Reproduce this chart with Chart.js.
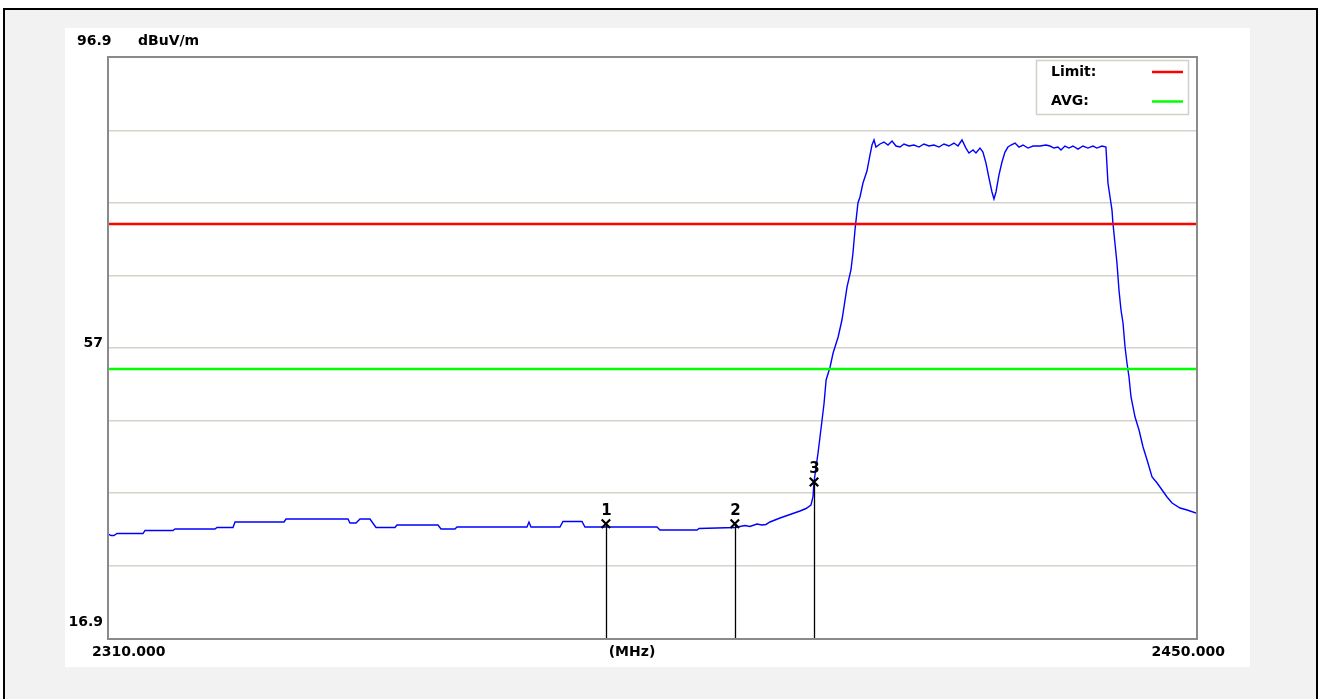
<!DOCTYPE html>
<html>
<head>
<meta charset="utf-8">
<script src="https://cdn.jsdelivr.net/npm/chart.js@4.4.1/dist/chart.umd.min.js"></script>
<style>
  html, body { margin:0; padding:0; background:#ffffff; width:1322px; height:699px; overflow:hidden; }
  #frame { position:absolute; left:3px; top:8px; width:1311px; height:700px; border:2px solid #000; border-bottom:none; background:#f2f2f2; }
  #panel { position:absolute; left:65px; top:28px; width:1185px; height:639px; background:#ffffff; }
  #c { position:absolute; left:0; top:0; }
</style>
</head>
<body>
<div id="frame"></div>
<div id="panel"></div>
<canvas id="c" width="1322" height="699"></canvas>
<script>
// ---- data ----
const freqMHz = [
  2310.00, 2310.26, 2310.64, 2311.03, 2314.38, 2314.64, 2318.24, 2318.50, 2323.65, 2323.91,
  2325.97, 2326.23, 2332.54, 2332.80, 2340.78, 2341.04, 2341.81, 2342.33, 2343.61, 2344.39,
  2346.83, 2347.09, 2352.37, 2352.76, 2354.56, 2354.82, 2363.83, 2364.09, 2364.35, 2368.08,
  2368.47, 2370.92, 2371.30, 2374.01, 2380.58, 2380.96, 2385.73, 2385.99, 2390.62, 2391.91,
  2392.55, 2393.45, 2394.10, 2394.61, 2395.13, 2396.42, 2397.71, 2399.00, 2399.77, 2400.41,
  2400.67, 2400.80, 2401.32, 2401.84, 2402.10, 2402.36, 2402.87, 2403.26, 2403.91, 2404.40,
  2404.66, 2405.05, 2405.56, 2405.82, 2406.08, 2406.46, 2406.72, 2407.11, 2407.62, 2408.01,
  2408.27, 2408.53, 2408.78, 2409.30, 2409.81, 2410.33, 2410.85, 2411.36, 2411.88, 2412.39,
  2413.03, 2413.68, 2414.32, 2414.96, 2415.61, 2416.25, 2416.90, 2417.54, 2418.18, 2418.83,
  2419.34, 2419.86, 2420.37, 2420.76, 2421.28, 2421.66, 2422.18, 2422.56, 2422.95, 2423.34,
  2423.72, 2423.98, 2424.24, 2424.62, 2425.01, 2425.40, 2425.78, 2426.17, 2426.69, 2427.20,
  2427.72, 2428.36, 2429.01, 2429.91, 2430.68, 2431.19, 2431.71, 2432.22, 2432.61, 2433.12,
  2433.64, 2434.15, 2434.80, 2435.44, 2436.08, 2436.73, 2437.24, 2437.89, 2438.40, 2438.66,
  2439.18, 2439.30, 2439.56, 2439.82, 2440.08, 2440.34, 2440.60, 2440.86, 2441.11, 2441.37,
  2441.63, 2442.15, 2442.66, 2443.18, 2443.70, 2444.34, 2444.99, 2445.63, 2446.27, 2446.92,
  2447.95, 2448.85, 2450.00
];
const levelDb = [
  31.20, 31.04, 31.04, 31.31, 31.31, 31.73, 31.73, 31.93, 31.93, 32.14,
  32.14, 32.90, 32.90, 33.31, 33.31, 32.76, 32.76, 33.31, 33.31, 32.14,
  32.14, 32.49, 32.49, 31.93, 31.93, 32.21, 32.21, 32.90, 32.21, 32.21,
  32.97, 32.97, 32.21, 32.21, 32.21, 31.80, 31.80, 32.00, 32.14, 32.42,
  32.28, 32.62, 32.49, 32.56, 32.90, 33.45, 33.93, 34.42, 34.76, 35.24,
  36.35, 38.42, 42.42, 46.97, 49.31, 52.49, 54.28, 56.21, 58.42, 60.76,
  62.55, 65.31, 67.66, 70.00, 73.18, 76.90, 77.73, 79.66, 81.31, 83.52,
  84.90, 85.59, 84.62, 85.04, 85.31, 84.90, 85.45, 84.76, 84.62, 85.04,
  84.76, 84.90, 84.62, 85.04, 84.76, 84.90, 84.62, 85.04, 84.76, 85.17,
  84.76, 85.59, 84.48, 83.79, 84.21, 83.79, 84.48, 83.93, 82.41, 80.34,
  78.42, 77.45, 78.42, 80.76, 82.55, 83.93, 84.62, 84.90, 85.17, 84.62,
  84.90, 84.48, 84.76, 84.76, 84.90, 84.76, 84.48, 84.62, 84.21, 84.76,
  84.48, 84.76, 84.34, 84.76, 84.48, 84.76, 84.48, 84.76, 84.62, 79.66,
  75.93, 74.14, 71.39, 68.62, 64.90, 62.14, 60.35, 57.04, 54.83, 52.90,
  50.14, 47.38, 45.59, 43.24, 41.45, 39.11, 38.28, 37.31, 36.35, 35.52,
  34.83, 34.55, 34.14
];
const limitDb = 74;
const avgDb = 54;
const markerNames = ['1', '2', '3'];
const markerFreq = [2374.0, 2390.6, 2400.8];
const markerLevel = [32.65, 32.65, 38.42];
const yMin = 16.9, yMax = 96.9, yMid = 57;
const xMin = 2310, xMax = 2450;
const yGrid = [26.9, 36.9, 46.9, 56.9, 66.9, 76.9, 86.9];
const xLabels = ['2310.000', '(MHz)', '2450.000'];
const yUnit = 'dBuV/m';
const legendNames = ['Limit:', 'AVG:'];

// ---- chart ----
const FONT = 'bold 14px "DejaVu Sans"';
const decor = {
  id: 'decor',
  beforeDatasetsDraw(chart) {
    const ctx = chart.ctx, a = chart.chartArea;
    ctx.save();
    ctx.strokeStyle = '#8a8a8a';
    ctx.lineWidth = 2;
    ctx.strokeRect(a.left - 1, a.top - 1, a.right - a.left + 2, a.bottom - a.top + 2);
    ctx.restore();
  },
  afterDatasetsDraw(chart) {
    const ctx = chart.ctx, a = chart.chartArea;
    const xs = chart.scales.x, ys = chart.scales.y;
    ctx.save();
    // markers: vertical lines and numbers
    ctx.strokeStyle = '#000';
    ctx.lineWidth = 1.3;
    ctx.fillStyle = '#000';
    ctx.font = 'bold 15px "DejaVu Sans"';
    ctx.textAlign = 'center';
    ctx.textBaseline = 'middle';
    markerFreq.forEach((f, i) => {
      const px = Math.round(xs.getPixelForValue(f)) + 0.5;
      const py = ys.getPixelForValue(markerLevel[i]);
      ctx.beginPath();
      ctx.moveTo(px, py);
      ctx.lineTo(px, a.bottom);
      ctx.stroke();
      ctx.fillText(markerNames[i], px, py - 13);
    });
    // axis texts
    ctx.font = FONT;
    ctx.textBaseline = 'middle';
    ctx.textAlign = 'left';
    ctx.fillText(String(yMax), 77, 41);
    ctx.fillText(yUnit, 138, 41);
    ctx.textAlign = 'right';
    ctx.fillText(String(yMid), 103, ys.getPixelForValue(yMid) - 4);
    ctx.fillText(String(yMin), 103, ys.getPixelForValue(yMin) - 16);
    ctx.textAlign = 'left';
    ctx.fillText(xLabels[0], 92, 652);
    ctx.textAlign = 'center';
    ctx.fillText(xLabels[1], 632, 652);
    ctx.textAlign = 'right';
    ctx.fillText(xLabels[2], 1225, 652);
    // legend box
    ctx.fillStyle = '#fff';
    ctx.fillRect(1036, 60, 153, 55);
    ctx.strokeStyle = '#d4d0c8';
    ctx.lineWidth = 1.5;
    ctx.strokeRect(1036.5, 60.5, 152, 54);
    ctx.fillStyle = '#000';
    ctx.font = 'bold 14px "DejaVu Sans"';
    ctx.textAlign = 'left';
    ctx.fillText(legendNames[0], 1051, 72);
    ctx.fillText(legendNames[1], 1051, 101);
    ctx.lineWidth = 2.5;
    ctx.strokeStyle = '#ff0000';
    ctx.beginPath(); ctx.moveTo(1152, 72); ctx.lineTo(1183, 72); ctx.stroke();
    ctx.strokeStyle = '#00ff00';
    ctx.beginPath(); ctx.moveTo(1152, 101.5); ctx.lineTo(1183, 101.5); ctx.stroke();
    ctx.restore();
  }
};

new Chart(document.getElementById('c'), {
  type: 'line',
  data: {
    datasets: [
      {
        label: 'Limit',
        data: [{x: xMin, y: limitDb}, {x: xMax, y: limitDb}],
        borderColor: '#ff0000', borderWidth: 2.5, pointRadius: 0, order: 1
      },
      {
        label: 'AVG',
        data: [{x: xMin, y: avgDb}, {x: xMax, y: avgDb}],
        borderColor: '#00ff00', borderWidth: 2.5, pointRadius: 0, order: 1
      },
      {
        label: 'Trace',
        data: freqMHz.map((f, i) => ({x: f, y: levelDb[i]})),
        borderColor: '#0000ff', borderWidth: 1.4, pointRadius: 0, tension: 0, order: 2
      },
      {
        label: 'Markers',
        data: markerFreq.map((f, i) => ({x: f, y: markerLevel[i]})),
        showLine: false, pointStyle: 'crossRot', pointRadius: 6,
        borderColor: '#000', backgroundColor: '#000', pointBorderWidth: 2.2, order: 0
      }
    ]
  },
  options: {
    responsive: false,
    animation: false,
    devicePixelRatio: 1,
    layout: { padding: { left: 109, right: 126, top: 58, bottom: 61 } },
    plugins: { legend: { display: false }, tooltip: { enabled: false } },
    scales: {
      x: { type: 'linear', min: xMin, max: xMax, display: false },
      y: {
        type: 'linear', min: yMin, max: yMax,
        afterBuildTicks: (s) => { s.ticks = yGrid.map(v => ({value: v})); },
        ticks: { display: false },
        grid: { color: '#d6d2ca', lineWidth: 1.5, drawTicks: false },
        border: { display: false }
      }
    }
  },
  plugins: [decor]
});
</script>
</body>
</html>
